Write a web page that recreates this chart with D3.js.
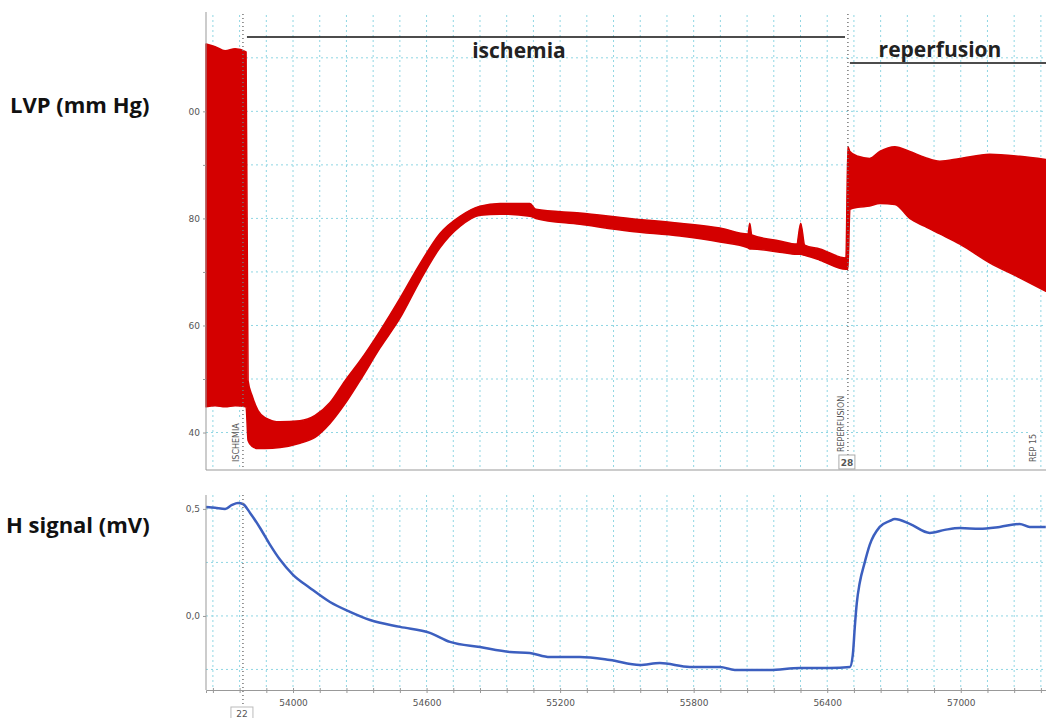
<!DOCTYPE html>
<html>

<head>
    <meta charset="utf-8">
    <title>LVP and H signal</title>
    <style type="text/css">
    body {
        margin: 0;
        background: #fff;
    }

    .panel-title {
        font: bold 22px "Open Sans", sans-serif;
        fill: #111;
    }

    .phase {
        font: bold 21px "Open Sans", sans-serif;
        fill: #222;
    }

    .tick text {
        font: 9px "DejaVu Sans", sans-serif;
        fill: #555;
    }

    .axis path,
    .axis line {
        stroke: #999;
    }

    .grid line {
        stroke: #8fd6e3;
        stroke-dasharray: 2, 3;
    }

    .marker {
        stroke: #777;
        stroke-dasharray: 1, 3;
        stroke-width: 1.5;
    }

    .marker-label {
        font: 8px "DejaVu Sans", sans-serif;
        fill: #555;
    }
    </style>
</head>

<body>
    <svg width="1046" height="718"></svg>
    <script src="https://d3js.org/d3.v7.min.js"></script>
    <script type="text/javascript">
    // LVP envelope (beat-to-beat min / max) over time
    var lvpTime = [53609, 53650, 53695, 53740, 53789, 53798, 53816, 53843, 53874, 53942,
        54031, 54099, 54166, 54234, 54301, 54391, 54481, 54570, 54660, 54750,
        54840, 54930, 55064, 55091, 55289, 55513, 55738, 55918, 56044, 56052,
        56061, 56187, 56263, 56281, 56299, 56367, 56484, 56493, 56502, 56538,
        56591, 56636, 56704, 56771, 56839, 56906, 56996, 57130, 57265, 57382];
    var lvpHigh = [112.6, 112.1, 111.3, 111.7, 111.1, 49.7, 46.9, 44.1, 42.8, 42.0,
        42.2, 43.2, 45.6, 49.7, 53.4, 59.0, 65.1, 71.5, 77.2, 80.4,
        82.3, 82.8, 82.8, 81.7, 81.0, 80.0, 79.1, 78.2, 77.1, 79.1,
        76.9, 75.8, 75.2, 79.1, 75.0, 74.3, 72.6, 93.4, 92.5, 91.6,
        91.2, 92.5, 93.4, 92.5, 91.4, 90.7, 91.2, 92.0, 91.6, 91.0];
    var lvpLow = [44.8, 45.0, 44.8, 45.0, 44.8, 38.5, 37.4, 37.0, 37.0, 37.2,
        38.0, 39.1, 41.7, 45.4, 49.7, 55.8, 61.4, 68.3, 74.5, 78.5,
        80.6, 80.8, 80.4, 80.0, 78.9, 77.6, 76.7, 75.6, 74.5, 74.3,
        74.3, 73.7, 73.3, 73.3, 73.1, 72.2, 70.5, 70.5, 81.7, 82.1,
        82.3, 82.8, 82.6, 80.0, 78.5, 77.1, 75.2, 71.7, 68.9, 66.4];

    // H signal (mV)
    var hTime = [53609, 53650, 53695, 53726, 53753, 53775, 53807, 53852, 53897, 53942,
        54000, 54076, 54166, 54256, 54346, 54481, 54615, 54705, 54840, 54975,
        55064, 55154, 55289, 55424, 55558, 55648, 55783, 55918, 55985, 56142,
        56277, 56412, 56502, 56515, 56524, 56533, 56546, 56568, 56591, 56636,
        56681, 56704, 56771, 56861, 56928, 56996, 57085, 57175, 57265, 57310, 57382];
    var hValue = [0.509, 0.505, 0.500, 0.519, 0.528, 0.523, 0.481, 0.411, 0.332, 0.262,
        0.192, 0.131, 0.065, 0.019, -0.019, -0.051, -0.079, -0.121, -0.145, -0.168,
        -0.173, -0.192, -0.192, -0.206, -0.229, -0.220, -0.238, -0.238, -0.252, -0.252,
        -0.243, -0.243, -0.238, -0.182, -0.051, 0.061, 0.154, 0.248, 0.332, 0.416,
        0.444, 0.453, 0.430, 0.388, 0.402, 0.411, 0.407, 0.416, 0.430, 0.416, 0.416];

    var lvpTicks = [40, 60, 80, 100];
    var lvpTickLabels = ["40", "60", "80", "00"];
    var hTicks = [0, 0.5];
    var hTickLabels = ["0,0", "0,5"];
    var timeLabels = [54000, 54600, 55200, 55800, 56400, 57000];

    // event comments
    var markerTime = [53775, 56493, 57355];
    var markerText = ["ISCHEMIA", "REPERFUSION", "REP 15"];
    var phaseNames = ["ischemia", "reperfusion"];
    var phaseStart = [53793, 56502];
    var phaseEnd = [56480, 57383];

    var svg = d3.select("svg");

    var x = d3.scaleLinear().domain([53609, 57383]).range([206, 1046]);
    var yTop = d3.scaleLinear().domain([33, 118]).range([470, 15]);
    var yBot = d3.scaleLinear().domain([-0.346, 0.565]).range([690, 495]);

    var gridTimes = d3.range(53640, 57383, 120);

    function drawGrid(y, vals) {
        var g = svg.append("g").attr("class", "grid");
        g.selectAll(".v").data(gridTimes).enter().append("line")
            .attr("x1", d => x(d)).attr("x2", d => x(d))
            .attr("y1", y.range()[1]).attr("y2", y.range()[0]);
        g.selectAll(".h").data(vals).enter().append("line")
            .attr("x1", x.range()[0]).attr("x2", x.range()[1])
            .attr("y1", d => y(d)).attr("y2", d => y(d));
    }
    drawGrid(yTop, d3.range(40, 118, 10));
    drawGrid(yBot, [-0.25, 0, 0.25, 0.5]);

    // LVP band
    var lvpData = lvpTime.map((t, i) => ({ t: t, hi: lvpHigh[i], lo: lvpLow[i] }));
    svg.append("path")
        .datum(lvpData)
        .attr("fill", "#d40000")
        .attr("stroke", "#d40000")
        .attr("stroke-width", 1.5)
        .attr("stroke-linejoin", "round")
        .attr("d", d3.area()
            .x(d => x(d.t))
            .y0(d => yTop(d.lo))
            .y1(d => yTop(d.hi))
            .curve(d3.curveMonotoneX));

    // H signal line
    var hData = hTime.map((t, i) => ({ t: t, v: hValue[i] }));
    svg.append("path")
        .datum(hData)
        .attr("fill", "none")
        .attr("stroke", "#3c5fbf")
        .attr("stroke-width", 2.5)
        .attr("stroke-linejoin", "round")
        .attr("d", d3.line().x(d => x(d.t)).y(d => yBot(d.v)).curve(d3.curveMonotoneX));

    // axes
    var topY = svg.append("g").attr("class", "axis")
        .attr("transform", "translate(206,0)")
        .call(d3.axisLeft(yTop).tickValues(lvpTicks).tickSize(3)
            .tickFormat((d, i) => lvpTickLabels[i]));
    topY.select(".domain").attr("d", "M0,12V470");
    svg.append("g").attr("class", "axis")
        .attr("transform", "translate(206,0)")
        .call(d3.axisLeft(yTop).tickValues([50, 70, 90]).tickSize(3).tickFormat(""))
        .select(".domain").remove();
    svg.append("line").attr("x1", 206).attr("x2", 1046).attr("y1", 470).attr("y2", 470)
        .attr("stroke", "#999");

    var botY = svg.append("g").attr("class", "axis")
        .attr("transform", "translate(206,0)")
        .call(d3.axisLeft(yBot).tickValues(hTicks).tickSize(3)
            .tickFormat((d, i) => hTickLabels[i]));
    botY.select(".domain").attr("d", "M0,495V690");

    var botX = svg.append("g").attr("class", "axis")
        .attr("transform", "translate(0,690)")
        .call(d3.axisBottom(x).tickValues(gridTimes).tickSize(3).tickPadding(7)
            .tickFormat(d => timeLabels.indexOf(d) >= 0 ? d : ""));
    botX.selectAll(".tick line").attr("y1", -2);

    // event markers
    svg.append("line").attr("class", "marker")
        .attr("x1", x(markerTime[0])).attr("x2", x(markerTime[0]))
        .attr("y1", 14).attr("y2", 470);
    svg.append("line").attr("class", "marker")
        .attr("x1", x(markerTime[0])).attr("x2", x(markerTime[0]))
        .attr("y1", 495).attr("y2", 705);
    svg.append("line").attr("class", "marker")
        .attr("x1", x(markerTime[1])).attr("x2", x(markerTime[1]))
        .attr("y1", 14).attr("y2", 455);

    markerText.forEach(function(txt, i) {
        var mx = x(markerTime[i]) - 4;
        var my = i == 1 ? 452 : 462;
        svg.append("rect")
            .attr("x", mx - 7).attr("y", my - (txt.length * 5.6))
            .attr("width", 9).attr("height", txt.length * 5.6)
            .attr("fill", "#fff");
        svg.append("text").attr("class", "marker-label")
            .attr("transform", "translate(" + mx + "," + my + ") rotate(-90)")
            .text(txt);
    });

    // comment number boxes
    svg.append("rect").attr("x", x(markerTime[1]) - 9).attr("y", 455)
        .attr("width", 16).attr("height", 14)
        .attr("fill", "#fff").attr("stroke", "#aaa");
    svg.append("text").attr("class", "marker-label")
        .attr("x", x(markerTime[1]) - 1).attr("y", 466)
        .attr("text-anchor", "middle").style("font-weight", "bold").style("font-size", "9px")
        .text("28");
    svg.append("rect").attr("x", x(markerTime[0]) - 12).attr("y", 707)
        .attr("width", 22).attr("height", 14)
        .attr("fill", "#fff").attr("stroke", "#bbb");
    svg.append("text").attr("class", "marker-label")
        .attr("x", x(markerTime[0]) - 1).attr("y", 717)
        .attr("text-anchor", "middle").style("font-size", "9px")
        .text("22");

    // phase brackets
    var phaseY = [37, 63];
    var labelY = [58, 57];
    phaseNames.forEach(function(name, i) {
        svg.append("line")
            .attr("x1", x(phaseStart[i])).attr("x2", x(phaseEnd[i]))
            .attr("y1", phaseY[i]).attr("y2", phaseY[i])
            .attr("stroke", "#111").attr("stroke-width", 1.5);
    });
    svg.append("text").attr("class", "phase")
        .attr("x", 519).attr("y", labelY[0]).attr("text-anchor", "middle")
        .text(phaseNames[0]);
    svg.append("text").attr("class", "phase")
        .attr("x", 940).attr("y", labelY[1]).attr("text-anchor", "middle")
        .text(phaseNames[1]);

    // panel titles
    svg.append("text").attr("class", "panel-title")
        .attr("x", 10).attr("y", 113).text("LVP (mm Hg)");
    svg.append("text").attr("class", "panel-title")
        .attr("x", 6).attr("y", 533).text("H signal (mV)");
    </script>
</body>

</html>
